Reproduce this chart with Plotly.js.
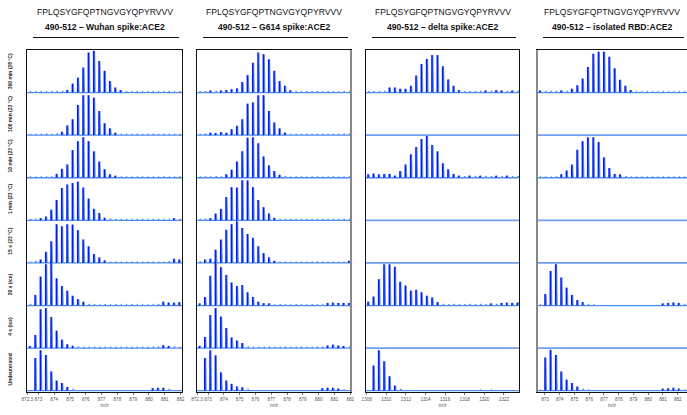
<!DOCTYPE html>
<html><head><meta charset="utf-8">
<script src="https://cdn.plot.ly/plotly-3.0.1.min.js"></script>
<style>html,body{margin:0;padding:0;background:#fff;}#chart{width:687px;height:415px;}</style>
</head><body><div id="chart"></div>
<script>
// ---------------- DATA ----------------
const peptide = 'FPLQSYGFQPTNGVGYQPYRVVV';
const panelTitles = ['490-512 – Wuhan spike:ACE2','490-512 – G614 spike:ACE2','490-512 – delta spike:ACE2','490-512 – isolated RBD:ACE2'];
const rowLabels = ['360 min (28 °C)','100 min (23 °C)','10 min (23 °C)','1 min (23 °C)','15 s (23 °C)','20 s (ice)','4 s (ice)','Undeuterated'];

// isotope grid (m/z of first grid point, spacing between peaks as drawn)
const gridStart = [872.45, 872.45, 1308.13, 872.64];
const gridStep  = [0.3375, 0.3375, 0.544, 0.362];

const tickVals1 = [872.3,873,874,875,876,877,878,879,880,881,882];
const tickText1 = ['872.3','873','874','875','876','877','878','879','880','881','882'];
const tickVals3 = [1308,1310,1312,1314,1316,1318,1320,1322];
const tickText3 = ['1308','1310','1312','1314','1316','1318','1320','1322'];
const tickVals4 = [873,874,875,876,877,878,879,880,881,882];
const tickText4 = ['873','874','875','876','877','878','879','880','881','882'];

// relative intensities per isotope grid point, rows top (360 min) to bottom (undeuterated)
const wuhanRows = [
 [0.02,0.02,0.03,0.02,0.03,0.04,0.04,0.06,0.21,0.35,0.59,0.94,0.98,0.74,0.51,0.27,0.12,0.06,0.03,0.02,0.03,0.02,0.02,0.03,0.02,0.02,0.03,0.02,0.03],
 [0.03,0.03,0.02,0.04,0.03,0.04,0.08,0.23,0.375,0.71,0.94,0.94,0.88,0.57,0.28,0.16,0.06,0.03,0.02,0.03,0.02,0.03,0.02,0.02,0.03,0.02,0.03,0.02,0.03],
 [0.02,0.02,0.03,0.02,0.03,0.09,0.21,0.31,0.65,0.86,0.95,0.86,0.62,0.38,0.2,0.08,0.05,0.02,0.03,0.02,0.02,0.03,0.02,0.02,0.02,0.03,0.02,0.02,0.03],
 [0.03,0.03,0.05,0.09,0.25,0.48,0.76,0.84,0.875,0.91,0.77,0.51,0.27,0.17,0.06,0.04,0.03,0.02,0.03,0.02,0.02,0.03,0.02,0.02,0.03,0.02,0.02,0.05,0.03],
 [0.03,0.04,0.08,0.26,0.51,0.91,0.86,0.91,0.9,0.77,0.55,0.39,0.21,0.13,0.06,0.03,0.02,0.03,0.02,0.03,0.02,0.02,0.03,0.02,0.03,0.02,0.04,0.1,0.08],
 [0.04,0.25,0.68,0.97,1.05,0.64,0.46,0.35,0.23,0.15,0.09,0.04,0.03,0.02,0.03,0.02,0.03,0.02,0.02,0.03,0.02,0.02,0.02,0.02,0.04,0.09,0.07,0.07,0.08],
 [0.05,0.31,0.91,0.94,0.73,0.41,0.2,0.09,0.055,0.03,0.02,0.03,0.02,0.02,0.03,0.02,0.02,0.03,0.02,0.02,0.03,0.02,0.02,0.03,0.04,0.07,0.05,0.04,0.02],
 [0,0.77,0.95,0.84,0.45,0.24,0.18,0.09,0.04,0,0,0,0,0,0,0,0,0,0,0,0,0,0,0.06,0.07,0.07,0.04,0,0]
];
const g614Rows = [
 [0.03,0.04,0.05,0.04,0.05,0.06,0.08,0.1,0.25,0.41,0.7,0.94,0.9,0.78,0.51,0.27,0.16,0.055,0.03,0.02,0.03,0.02,0.03,0.02,0.03,0.02,0.02,0.03,0.02],
 [0.03,0.04,0.06,0.05,0.07,0.06,0.14,0.22,0.375,0.74,0.77,0.94,0.94,0.57,0.3,0.16,0.06,0.03,0.02,0.03,0.02,0.03,0.02,0.02,0.03,0.02,0.03,0.02,0.02],
 [0.02,0.03,0.03,0.04,0.03,0.08,0.19,0.38,0.625,0.94,0.95,0.81,0.5,0.29,0.16,0.07,0.04,0.02,0.03,0.02,0.02,0.03,0.02,0.02,0.02,0.03,0.02,0.02,0.03],
 [0.03,0.04,0.05,0.16,0.27,0.55,0.78,0.77,0.94,0.94,0.78,0.48,0.31,0.16,0.06,0.03,0.02,0.03,0.02,0.02,0.03,0.02,0.02,0.03,0.02,0.02,0.02,0.03,0.02],
 [0.04,0.08,0.1,0.31,0.55,0.78,0.91,0.98,0.82,0.68,0.59,0.39,0.23,0.13,0.05,0.03,0.02,0.03,0.02,0.02,0.03,0.02,0.02,0.02,0.03,0.02,0.02,0.03,0.05],
 [0.05,0.2,0.7,1.05,0.9,0.72,0.54,0.46,0.48,0.31,0.2,0.09,0.055,0.05,0.02,0.03,0.02,0.02,0.03,0.02,0.02,0.03,0.02,0.02,0.06,0.07,0.06,0.06,0.06],
 [0.05,0.26,0.78,0.94,0.74,0.47,0.25,0.18,0.12,0.04,0.02,0.03,0.02,0.02,0.03,0.02,0.02,0.03,0.02,0.02,0.03,0.02,0.02,0.03,0.06,0.08,0.06,0.05,0.02],
 [0,0.77,0.95,0.83,0.43,0.24,0.16,0.1,0.08,0.04,0,0,0,0,0,0,0,0,0,0,0,0,0,0.06,0.07,0.07,0.05,0.03,0]
];
const deltaRows = [
 [0.03,0.03,0.03,0.04,0.12,0.12,0.09,0.09,0.16,0.4,0.67,0.79,0.88,0.88,0.62,0.31,0.16,0.06,0.03,0.04,0.03,0.04,0.05,0.04,0.06,0.05,0.04,0.05,0.04],
 [],
 [0.08,0.1,0.08,0.09,0.09,0.05,0.16,0.31,0.55,0.72,0.91,0.98,0.77,0.62,0.34,0.2,0.09,0.05,0.04,0.05,0.04,0.05,0.04,0.04,0.05,0.04,0.05,0.04,0.04],
 [],
 [],
 [0.09,0.21,0.62,0.97,0.97,0.91,0.56,0.47,0.35,0.37,0.31,0.23,0.19,0.08,0.04,0.03,0.04,0.03,0.03,0.04,0.03,0.04,0.03,0.05,0.04,0.06,0.07,0.06,0.07],
 [],
 [0,0.59,0.95,0.69,0.34,0.12,0.04,0,0,0,0,0,0,0,0,0,0,0,0,0,0,0.02,0,0.02,0,0,0,0,0]
];
const rbdRows = [
 [0.05,0.04,0.04,0.04,0.05,0.04,0.09,0.17,0.33,0.6,0.91,0.96,0.96,0.84,0.57,0.3,0.16,0.06,0.02,0.02,0.02,0.02,0.02,0.02,0.02,0.02,0.02,0.02],
 [],
 [0.02,0.02,0.02,0.03,0.08,0.17,0.31,0.66,0.86,0.95,0.95,0.84,0.48,0.23,0.09,0.08,0.04,0.02,0.02,0.02,0.02,0.02,0.02,0.02,0.02,0.02,0.02,0.02],
 [],
 [],
 [0.02,0.27,0.81,0.97,0.66,0.42,0.25,0.13,0.08,0.04,0.02,0.01,0.01,0.01,0.01,0.01,0.01,0.01,0.01,0.01,0.01,0.01,0.01,0.05,0.06,0.07,0.06,0.04],
 [],
 [0.02,0.78,0.96,0.84,0.45,0.26,0.18,0.1,0.04,0.02,0,0,0,0,0,0,0,0,0,0,0,0,0,0.05,0.06,0.07,0.05,0.03]
];

// ---------------- LAYOUT / DRAWING ----------------
const W = 687, H = 415;
const fx = v => v / W, fy = v => 1 - v / H;
const plotTop = 50, plotBottom = 392;
const colPx = [[27,182],[197,351],[366,519],[537,687]];
const ranges = [[872.28,882.09],[872.3,882.05],[1307.93,1323.54],[872.46,882.63]];
const allRows = [wuhanRows, g614Rows, deltaRows, rbdRows];
const ticks = [[tickVals1,tickText1],[tickVals1,tickText1],[tickVals3,tickText3],[tickVals4,tickText4]];

const LIGHT = '#4d8ef6', DARK = '#0a18f2', FLAT = '#6f9ff3';
const traces = [];
const layout = {
  width: W, height: H, margin: {l:0,r:0,t:0,b:0},
  paper_bgcolor: '#fff', plot_bgcolor: '#fff', showlegend: false,
  font: {family: 'Liberation Sans, Arial, sans-serif', color: '#000'},
  annotations: [], shapes: []
};

allRows.forEach((rows, p) => {
  const n = p + 1;
  const xa = 'x' + (n === 1 ? '' : n), ya = 'y' + (n === 1 ? '' : n);
  const xk = 'xaxis' + (n === 1 ? '' : n), yk = 'yaxis' + (n === 1 ? '' : n);
  const [lo, hi] = ranges[p];
  const step = gridStep[p];
  layout[xk] = {
    domain: [fx(colPx[p][0]), fx(colPx[p][1])], anchor: ya, range: [lo, hi],
    tickmode: 'array', tickvals: ticks[p][0], ticktext: ticks[p][1], tickangle: 0,
    tickfont: {size: 4.6, color: '#555'}, ticks: 'outside', ticklen: 2, tickwidth: 0.8, tickcolor: '#555',
    showline: true, mirror: true, linecolor: '#111', linewidth: 1,
    showgrid: false, zeroline: false,
    title: {text: 'm/z', font: {size: 5, color: '#555'}, standoff: 1}
  };
  layout[yk] = {
    domain: [fy(plotBottom), fy(plotTop)], anchor: xa, range: [-0.03, 8],
    showline: true, mirror: true, linecolor: '#111', linewidth: 1,
    showticklabels: false, ticks: '', showgrid: false, zeroline: false
  };
  rows.forEach((vals, r) => {
    const b = 7 - r;
    if (!vals.length) {
      traces.push({type:'scatter', mode:'lines', xaxis: xa, yaxis: ya, hoverinfo:'skip',
        x: [lo, hi], y: [b, b], line: {color: FLAT, width: 1.8}});
      return;
    }
    const px = [lo], py = [b];
    const sx = [], sy = [];
    vals.forEach((h, i) => {
      const mz = gridStart[p] + i * step;
      const off = step * 0.16, hw = step * 0.1;
      px.push(mz + off - hw, mz + off, mz + off + hw);
      py.push(b, b + h, b);
      if (h >= 0.05) { sx.push(mz, mz, null); sy.push(b, b + h, null); }
    });
    px.push(hi); py.push(b);
    traces.push({type:'scatter', mode:'lines', xaxis: xa, yaxis: ya, hoverinfo:'skip',
      x: px, y: py, line: {color: LIGHT, width: 1.3}});
    traces.push({type:'scatter', mode:'lines', xaxis: xa, yaxis: ya, hoverinfo:'skip',
      x: sx, y: sy, line: {color: DARK, width: 1.5}});
  });
  const cx = fx((colPx[p][0] + colPx[p][1]) / 2);
  layout.annotations.push({xref:'paper', yref:'paper', x: cx, y: fy(12), xanchor:'center', yanchor:'middle',
    text: peptide, showarrow: false, font: {size: 8.6, color: '#111'}});
  layout.annotations.push({xref:'paper', yref:'paper', x: cx, y: fy(27), xanchor:'center', yanchor:'middle',
    text: '<b>' + panelTitles[p] + '</b>', showarrow: false, font: {size: 8.6, color: '#111'}});
  layout.shapes.push({type:'line', xref:'paper', yref:'paper',
    x0: fx(colPx[p][0] + 6), x1: fx(Math.min(colPx[p][1] - 3, 684)), y0: fy(37.5), y1: fy(37.5),
    line: {color: '#111', width: 1}});
});

rowLabels.forEach((t, r) => {
  layout.annotations.push({xref:'paper', yref:'y', x: fx(10), y: 7 - r + 0.5, xanchor:'center', yanchor:'middle',
    textangle: -90, text: '<b>' + t + '</b>', showarrow: false, font: {size: 5, color: '#222'}});
});

// grey frame edges as in the reference
layout.shapes.push({type:'line', xref:'paper', yref:'paper', x0: fx(351), x1: fx(351), y0: fy(plotBottom), y1: fy(plotTop), line:{color:'#888', width:2}});
layout.shapes.push({type:'line', xref:'paper', yref:'paper', x0: fx(537), x1: fx(537), y0: fy(plotBottom), y1: fy(plotTop), line:{color:'#888', width:2}});

Plotly.newPlot('chart', traces, layout, {staticPlot: true, displayModeBar: false});
</script></body></html>
